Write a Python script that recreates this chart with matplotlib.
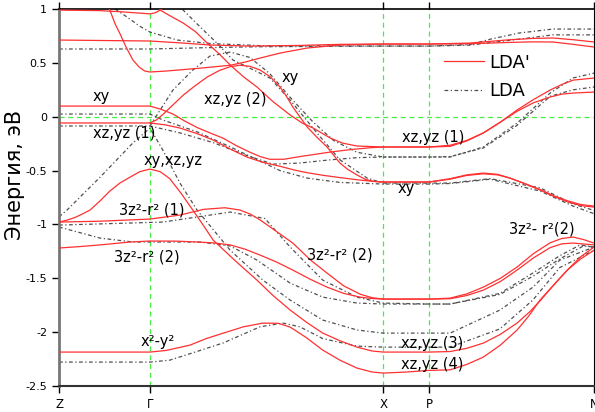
import matplotlib
matplotlib.use("Agg")
import matplotlib.pyplot as plt
from matplotlib.lines import Line2D

plt.rcParams['font.family'] = ['DejaVu Sans']
plt.rcParams['axes.unicode_minus'] = False

# high-symmetry points along the path (normalised path length)
k_ticks = [0.0, 0.170, 0.606, 0.692, 1.0]
k_labels = ['Z', r'$\Gamma$', 'X', 'P', 'N']
y_ticks = [1, 0.5, 0, -0.5, -1, -1.5, -2, -2.5]
y_tick_labels = ['1', '0.5', '0', '-0.5', '-1', '-1.5', '-2', '-2.5']

# LDA' bands, (k, E in eV)
lda1_top = [(0, 0.99), (0.077, 0.985), (0.114, 0.975), (0.170, 0.955), (0.180, 0.965), (0.189, 0.99),
            (0.207, 1.05)]
lda1_b = [(0.088, 1.05), (0.095, 0.99), (0.105, 0.86), (0.114, 0.77), (0.125, 0.65), (0.138, 0.527),
          (0.150, 0.46), (0.160, 0.425), (0.170, 0.415), (0.202, 0.425), (0.264, 0.451), (0.320, 0.478),
          (0.350, 0.51), (0.376, 0.545), (0.413, 0.591), (0.464, 0.638), (0.525, 0.666), (0.606, 0.675),
          (0.692, 0.675), (0.768, 0.684), (0.806, 0.70), (0.843, 0.715), (0.885, 0.727), (0.923, 0.731),
          (0.961, 0.715), (1.0, 0.694)]
lda1_c = [(0, 0.712), (0.170, 0.703), (0.232, 0.684), (0.282, 0.666), (0.357, 0.656), (0.450, 0.662),
          (0.525, 0.672), (0.606, 0.675), (0.692, 0.675), (0.768, 0.678), (0.843, 0.69), (0.885, 0.695),
          (0.923, 0.694), (0.961, 0.672), (1.0, 0.647)]
lda1_d = [(0.183, 1.05), (0.189, 0.99), (0.210, 0.93), (0.232, 0.87), (0.255, 0.79), (0.277, 0.684),
          (0.300, 0.58), (0.320, 0.48), (0.345, 0.37), (0.370, 0.276), (0.400, 0.14), (0.432, 0.016),
          (0.455, -0.06), (0.475, -0.105), (0.507, -0.198), (0.530, -0.245), (0.557, -0.272),
          (0.606, -0.281), (0.692, -0.281), (0.731, -0.265), (0.762, -0.22), (0.793, -0.151),
          (0.825, -0.05), (0.856, 0.062), (0.887, 0.16), (0.918, 0.248), (0.940, 0.30), (0.961, 0.34),
          (1.0, 0.359)]
lda1_e = [(0.170, -0.058), (0.182, -0.03), (0.194, 0.02), (0.213, 0.11), (0.232, 0.2), (0.255, 0.29),
          (0.277, 0.369), (0.300, 0.43), (0.320, 0.465), (0.338, 0.478), (0.357, 0.468), (0.376, 0.433),
          (0.395, 0.37), (0.413, 0.276), (0.425, 0.19), (0.437, 0.09), (0.450, 0.0), (0.464, -0.096),
          (0.482, -0.19), (0.501, -0.281), (0.525, -0.43), (0.540, -0.49), (0.557, -0.541),
          (0.572, -0.58), (0.587, -0.6), (0.606, -0.606), (0.692, -0.606), (0.731, -0.575),
          (0.762, -0.54), (0.793, -0.523), (0.820, -0.535), (0.843, -0.57), (0.870, -0.62),
          (0.899, -0.68), (0.925, -0.74), (0.950, -0.79), (0.975, -0.825), (1.0, -0.839)]
lda1_f = [(0, 0.099), (0.170, 0.099), (0.190, 0.07), (0.213, 0.025), (0.235, -0.04), (0.258, -0.10),
          (0.282, -0.15), (0.307, -0.2), (0.332, -0.27), (0.357, -0.33), (0.376, -0.37), (0.394, -0.395),
          (0.420, -0.395), (0.450, -0.37), (0.480, -0.348), (0.507, -0.328), (0.545, -0.305),
          (0.581, -0.288), (0.606, -0.281), (0.692, -0.281), (0.731, -0.275), (0.762, -0.225),
          (0.793, -0.151), (0.825, -0.05), (0.856, 0.05), (0.887, 0.13), (0.918, 0.183), (0.940, 0.21),
          (0.961, 0.22), (1.0, 0.229)]
lda1_g = [(0, -0.058), (0.170, -0.058), (0.198, -0.075), (0.226, -0.105), (0.257, -0.155), (0.288, -0.216),
          (0.320, -0.30), (0.351, -0.374), (0.382, -0.425), (0.413, -0.46), (0.440, -0.495),
          (0.464, -0.52), (0.495, -0.545), (0.525, -0.565), (0.557, -0.585), (0.587, -0.6),
          (0.606, -0.606), (0.692, -0.606), (0.731, -0.58), (0.762, -0.545), (0.793, -0.53),
          (0.820, -0.54), (0.843, -0.57), (0.870, -0.62), (0.899, -0.675), (0.925, -0.735),
          (0.950, -0.78), (0.975, -0.815), (1.0, -0.83)]
lda1_h = [(0, -0.978), (0.015, -0.96), (0.030, -0.935), (0.045, -0.9), (0.058, -0.866), (0.077, -0.78),
          (0.095, -0.69), (0.114, -0.615), (0.133, -0.56), (0.151, -0.51), (0.170, -0.486),
          (0.189, -0.51), (0.207, -0.575), (0.228, -0.71), (0.250, -0.866), (0.270, -1.01),
          (0.288, -1.145), (0.330, -1.34), (0.370, -1.517), (0.400, -1.66), (0.432, -1.795),
          (0.463, -1.91), (0.493, -2.009), (0.525, -2.08), (0.557, -2.139), (0.585, -2.175),
          (0.606, -2.185), (0.692, -2.185), (0.731, -2.18), (0.762, -2.15), (0.793, -2.102),
          (0.825, -2.02), (0.856, -1.916), (0.880, -1.81), (0.899, -1.71), (0.925, -1.56),
          (0.950, -1.424), (0.975, -1.30), (1.0, -1.21)]
lda1_i = [(0, -0.978), (0.077, -0.97), (0.170, -0.95), (0.226, -0.913), (0.270, -0.86), (0.310, -0.845),
          (0.338, -0.866), (0.358, -0.905), (0.376, -0.959), (0.405, -1.06), (0.437, -1.173),
          (0.470, -1.33), (0.501, -1.452), (0.532, -1.57), (0.563, -1.648), (0.585, -1.68),
          (0.606, -1.693), (0.692, -1.693), (0.731, -1.684), (0.762, -1.645), (0.793, -1.582),
          (0.825, -1.50), (0.856, -1.396), (0.887, -1.27), (0.918, -1.17), (0.940, -1.13),
          (0.961, -1.117), (0.980, -1.14), (1.0, -1.173)]
lda1_j = [(0, -1.219), (0.040, -1.205), (0.077, -1.19), (0.133, -1.163), (0.170, -1.154), (0.220, -1.155),
          (0.258, -1.163), (0.290, -1.172), (0.320, -1.19), (0.348, -1.23), (0.376, -1.285),
          (0.407, -1.35), (0.437, -1.424), (0.470, -1.51), (0.501, -1.582), (0.532, -1.64),
          (0.563, -1.675), (0.585, -1.688), (0.606, -1.693), (0.692, -1.693), (0.731, -1.69),
          (0.762, -1.66), (0.793, -1.61), (0.825, -1.53), (0.856, -1.424), (0.887, -1.31),
          (0.918, -1.215), (0.940, -1.18), (0.961, -1.173), (1.0, -1.19)]
lda1_k = [(0, -2.185), (0.170, -2.185), (0.200, -2.17), (0.245, -2.12), (0.275, -2.06), (0.307, -2.009),
          (0.345, -1.95), (0.381, -1.916), (0.410, -1.918), (0.432, -1.953), (0.462, -2.05),
          (0.493, -2.167), (0.525, -2.26), (0.557, -2.334), (0.585, -2.37), (0.606, -2.38),
          (0.650, -2.37), (0.692, -2.355), (0.731, -2.35), (0.762, -2.3), (0.793, -2.232),
          (0.825, -2.12), (0.856, -1.981), (0.878, -1.85), (0.899, -1.702), (0.925, -1.56),
          (0.950, -1.424), (0.975, -1.32), (1.0, -1.24)]

# LDA bands
lda_1 = [(0, 0.629), (0.170, 0.629), (0.264, 0.64), (0.376, 0.65), (0.606, 0.656), (0.692, 0.656),
         (0.768, 0.67), (0.806, 0.72), (0.860, 0.777), (0.923, 0.814), (1.0, 0.814)]
lda_2 = [(0.105, 1.0), (0.127, 0.926), (0.151, 0.84), (0.170, 0.786), (0.221, 0.712), (0.282, 0.68),
         (0.376, 0.66), (0.606, 0.656), (0.692, 0.656), (0.768, 0.665), (0.860, 0.72), (0.923, 0.76),
         (1.0, 0.76)]
lda_3 = [(0.217, 1.06), (0.232, 0.99), (0.264, 0.833), (0.295, 0.684), (0.325, 0.527), (0.357, 0.45),
         (0.394, 0.36), (0.432, 0.155), (0.482, -0.15), (0.525, -0.40), (0.576, -0.57), (0.606, -0.616),
         (0.692, -0.616), (0.731, -0.616), (0.806, -0.575), (0.899, -0.66), (0.961, -0.81), (1.0, -0.87)]
lda_4 = [(0.170, -0.086), (0.189, 0.062), (0.213, 0.248), (0.250, 0.433), (0.282, 0.563), (0.320, 0.60),
         (0.357, 0.55), (0.394, 0.40), (0.432, 0.18), (0.475, -0.05), (0.513, -0.22), (0.557, -0.33),
         (0.606, -0.374), (0.692, -0.374), (0.731, -0.374), (0.793, -0.281), (0.856, -0.06),
         (0.918, 0.22), (0.961, 0.36), (1.0, 0.405)]
lda_5 = [(0, 0.025), (0.170, 0.025), (0.194, -0.03), (0.258, -0.14), (0.320, -0.28), (0.413, -0.50),
         (0.464, -0.57), (0.525, -0.61), (0.606, -0.625), (0.692, -0.625), (0.731, -0.62),
         (0.806, -0.58), (0.899, -0.69), (0.961, -0.83), (1.0, -0.9)]
lda_6 = [(0, -0.086), (0.170, -0.086), (0.226, -0.15), (0.288, -0.24), (0.351, -0.36), (0.400, -0.44),
         (0.450, -0.43), (0.507, -0.40), (0.557, -0.38), (0.606, -0.374), (0.692, -0.374),
         (0.731, -0.37), (0.793, -0.29), (0.856, -0.08), (0.918, 0.19), (0.961, 0.25), (1.0, 0.276)]
lda_7 = [(0, -0.93), (0.015, -0.866), (0.077, -0.56), (0.138, -0.244), (0.170, -0.105), (0.194, -0.31),
         (0.226, -0.616), (0.258, -0.866), (0.320, -1.24), (0.381, -1.517), (0.432, -1.702),
         (0.493, -1.888), (0.557, -1.98), (0.606, -2.009), (0.692, -2.009), (0.731, -2.009),
         (0.824, -1.795), (0.886, -1.582), (0.936, -1.331), (1.0, -1.21)]
lda_8 = [(0, -1.006), (0.077, -0.995), (0.194, -0.978), (0.258, -0.931), (0.320, -0.885), (0.385, -0.945),
         (0.432, -1.21), (0.493, -1.517), (0.557, -1.675), (0.606, -1.73), (0.692, -1.739),
         (0.731, -1.739), (0.824, -1.64), (0.886, -1.45), (0.936, -1.29), (0.974, -1.19), (1.0, -1.21)]
lda_9 = [(0, -1.024), (0.077, -1.127), (0.138, -1.163), (0.170, -1.163), (0.264, -1.163), (0.320, -1.2),
         (0.370, -1.331), (0.432, -1.545), (0.493, -1.675), (0.557, -1.73), (0.606, -1.739),
         (0.692, -1.739), (0.731, -1.739), (0.824, -1.65), (0.886, -1.48), (0.936, -1.32),
         (0.980, -1.2), (1.0, -1.21)]
lda_10 = [(0, -2.278), (0.170, -2.278), (0.207, -2.26), (0.245, -2.2), (0.307, -2.10), (0.376, -1.95),
          (0.419, -1.916), (0.450, -1.95), (0.493, -2.06), (0.557, -2.13), (0.606, -2.139),
          (0.692, -2.139), (0.731, -2.139), (0.824, -1.97), (0.886, -1.70), (0.936, -1.40), (1.0, -1.24)]

lda_prime_bands = [lda1_top, lda1_b, lda1_c, lda1_d, lda1_e, lda1_f, lda1_g, lda1_h, lda1_i, lda1_j, lda1_k]
lda_bands = [lda_1, lda_2, lda_3, lda_4, lda_5, lda_6, lda_7, lda_8, lda_9, lda_10]

# orbital labels: (k, E, text)
orbital_labels = [
    (0.079, 0.19, 'xy'),
    (0.121, -0.16, 'xz,yz (1)'),
    (0.213, -0.41, 'xy,xz,yz'),
    (0.174, -0.87, '3z²-r² (1)'),
    (0.164, -1.30, '3z²-r² (2)'),
    (0.185, -2.09, 'x²-y²'),
    (0.329, 0.16, 'xz,yz (2)'),
    (0.432, 0.36, 'xy'),
    (0.525, -1.28, '3z²-r² (2)'),
    (0.700, -0.19, 'xz,yz (1)'),
    (0.649, -0.67, 'xy'),
    (0.697, -2.11, 'xz,yz (3)'),
    (0.697, -2.30, 'xz,yz (4)'),
    (0.903, -1.045, '3z²- r²(2)'),
]

red = '#ff3030'
gray = '#505050'
green = '#44ee44'

fig = plt.figure(figsize=(5.95, 4.12), dpi=100)
ax = fig.add_axes([0.0992, 0.0631, 0.8992, 0.915])

for k in k_ticks[1:4]:
    ax.axvline(k, color=green, lw=0.9, ls=(0, (4, 3)), zorder=1)
ax.axhline(0, color=green, lw=0.9, ls=(0, (4, 3)), zorder=1)

for band in lda_bands:
    ks, es = zip(*band)
    ax.plot(ks, es, color=gray, lw=0.9, ls=(0, (3, 2, 1, 2)), zorder=2)
for band in lda_prime_bands:
    ks, es = zip(*band)
    ax.plot(ks, es, color=red, lw=0.9, zorder=3)

for k, e, txt in orbital_labels:
    ax.text(k, e, txt, fontsize=10.5, ha='center', va='center', zorder=4)

ax.set_xlim(0, 1)
ax.set_ylim(-2.5, 1)
ax.set_xticks(k_ticks)
ax.set_xticklabels(k_labels, fontsize=8.5)
ax.set_yticks(y_ticks)
ax.set_yticklabels(y_tick_labels, fontsize=8)
ax.tick_params(axis='both', direction='out', length=5, width=1, top=True, right=False)
ax.set_ylabel('Энергия, эВ', fontsize=15)
ax.yaxis.set_label_coords(-0.064, 0.56)

ax.spines['left'].set_color('#777777')
ax.spines['left'].set_linewidth(2)
ax.spines['bottom'].set_color('#333333')
ax.spines['bottom'].set_linewidth(1.5)
ax.spines['top'].set_linewidth(1.2)

handles = [Line2D([], [], color=red, lw=0.9),
           Line2D([], [], color=gray, lw=0.9, ls=(0, (3, 2, 1, 2)))]
ax.legend(handles, ["LDA'", 'LDA'], loc='upper left', bbox_to_anchor=(0.69, 0.925),
          frameon=False, fontsize=13, handlelength=2.2, labelspacing=0.6, handletextpad=0.3)

fig.savefig('out.png', dpi=100)
